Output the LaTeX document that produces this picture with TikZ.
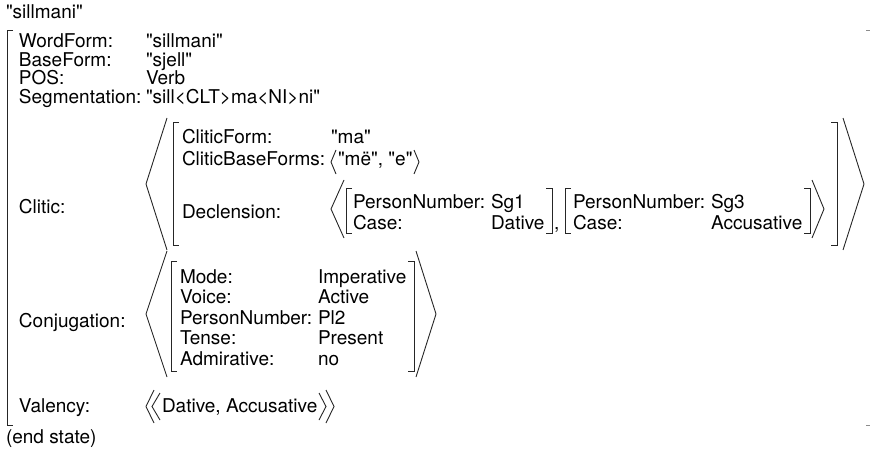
\documentclass[tikz,border=0pt]{standalone}
\usepackage{fontspec}
\setmainfont{TeX Gyre Heros}[Ligatures=TeXOff]
\newcommand\avmL[3]{\draw[brk] ({#1+6},#2) -- (#1,#2) -- (#1,#3) -- ({#1+6},#3);}
\newcommand\avmR[3]{\draw[brk] ({#1-6},#2) -- (#1,#2) -- (#1,#3) -- ({#1-6},#3);}
\newcommand\angL[4]{\draw[brk] ({#1+#2},#3) -- (#1,{(#3+#4)/2}) -- ({#1+#2},#4);}
\newcommand\angR[4]{\draw[brk] ({#1-#2},#3) -- (#1,{(#3+#4)/2}) -- ({#1-#2},#4);}
\begin{document}
\begin{tikzpicture}[x=1pt,y=-1pt,
  txt/.style={anchor=base west, inner sep=0pt, outer sep=0pt, font=\fontsize{19}{22}\selectfont},
  brk/.style={line width=0.9pt, draw=black!85},
  tick/.style={line width=0.9pt, draw=black!45}]
\useasboundingbox (0,0) rectangle (870,449);
% title
\node[txt] (title) at (6,18.5) {"sillmani"};
% outer bracket
\avmL{7}{30}{425}
\draw[tick] (866,30) -- (870,30);
\draw[tick] (866,425) -- (870,425);
% top rows
\node[txt] (wfL) at (19,47.8) {WordForm:};
\node[txt] (wfV) at (146,47.8) {"sillmani"};
\node[txt] (bfL) at (19,66.3) {BaseForm:};
\node[txt] (bfV) at (146,66.3) {"sjell"};
\node[txt] (posL) at (19,84.8) {POS:};
\node[txt] (posV) at (146,84.8) {Verb};
\node[txt] (segL) at (19,103.3) {Segmentation:};
\node[txt] (segV) at (146,103.3) {"sill<CLT>ma<NI>ni"};
% Clitic
\node[txt] (clL) at (19,214) {Clitic:};
\angL{146}{21}{118}{250}
\avmL{173}{122}{245}
\node[txt] (cfL) at (182,143.8) {CliticForm:};
\node[txt] (cfV) at (331,143.8) {"ma"};
\node[txt] (cbL) at (182,165.8) {CliticBaseForms:};
\angL{331}{5}{150}{174}
\node[txt] (cbV) at (338,165.8) {"më", "e"};
\angR{419}{5}{150}{174}
\node[txt] (dcL) at (182,218.8) {Declension:};
\angL{331}{13}{180}{238}
\avmL{346}{188}{233}
\node[txt] (pn1L) at (353,208.8) {PersonNumber:};
\node[txt] (pn1V) at (491,208.8) {Sg1};
\node[txt] (cs1L) at (353,229.3) {Case:};
\node[txt] (cs1V) at (491,229.3) {Dative};
\avmR{552}{188}{233}
\node[txt] (comma) at (554,229.3) {,};
\avmL{565}{188}{233}
\node[txt] (pn2L) at (573,208.8) {PersonNumber:};
\node[txt] (pn2V) at (711,208.8) {Sg3};
\node[txt] (cs2L) at (573,229.3) {Case:};
\node[txt] (cs2V) at (711,229.3) {Accusative};
\avmR{810}{188}{233}
\angR{824}{12}{180}{238}
\avmR{837}{122}{245}
\angR{864}{21}{118}{250}
% Conjugation
\node[txt] (cjL) at (19,327) {Conjugation:};
\angL{146}{21}{251}{377}
\avmL{171}{261}{371}
\node[txt] (moL) at (180,283) {Mode:};
\node[txt] (moV) at (318,283) {Imperative};
\node[txt] (voL) at (180,303.5) {Voice:};
\node[txt] (voV) at (318,303.5) {Active};
\node[txt] (pnL) at (180,324) {PersonNumber:};
\node[txt] (pnV) at (318,324) {Pl2};
\node[txt] (teL) at (180,344.5) {Tense:};
\node[txt] (teV) at (318,344.5) {Present};
\node[txt] (adL) at (180,365) {Admirative:};
\node[txt] (adV) at (318,365) {no};
\avmR{414}{261}{371}
\angR{436}{20}{251}{377}
% Valency
\node[txt] (vaL) at (19,412) {Valency:};
\angL{146}{8}{390}{423}
\angL{152}{8}{393}{420}
\node[txt] (vaV) at (162,412) {Dative, Accusative};
\angR{326}{7}{393}{420}
\angR{334}{8}{390}{423}
% end
\node[txt] (end) at (6,443.5) {(end state)};
\end{tikzpicture}
\end{document}
